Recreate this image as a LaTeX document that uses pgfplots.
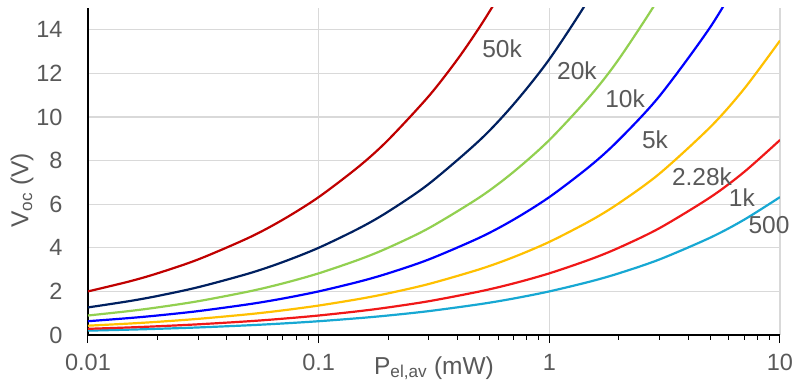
\documentclass[border=0pt]{standalone}
\usepackage{pgfplots}
\pgfplotsset{compat=1.18}
\usepackage{fontspec}
\setmainfont{Liberation Sans}
\definecolor{txt}{HTML}{595959}
\definecolor{gridc}{HTML}{D9D9D9}
\definecolor{c50k}{HTML}{C00000}
\definecolor{c20k}{HTML}{002060}
\definecolor{c10k}{HTML}{92D050}
\definecolor{c5k}{HTML}{0000FF}
\definecolor{c228k}{HTML}{FFC000}
\definecolor{c1k}{HTML}{F01818}
\definecolor{c500}{HTML}{17A8D3}
\begin{document}
\begin{tikzpicture}
\begin{axis}[
  at={(88pt,48pt)}, anchor=south west,
  scale only axis, width=692pt, height=327pt,
  xmode=log, xmin=0.01, xmax=10, ymin=0, ymax=15,
  axis x line*=bottom, axis y line*=left,
  axis line style={black, line width=1.2pt},
  xtick={0.01,0.1,1,10}, xticklabels={0.01,0.1,1,10},
  ytick={0,2,4,6,8,10,12,14},
  xmajorgrids, ymajorgrids, xminorgrids=false,
  grid style={gridc, line width=1.2pt},
  tick align=outside,
  major tick length=8pt, minor tick length=5pt,
  every tick/.style={black, line width=1pt},
  ytick style={draw=none},
  clip mode=individual,
  /pgf/number format/assume math mode=true,
  tick label style={font=\fontsize{23.5}{27}\selectfont, text=txt},
  xticklabel style={anchor=base, yshift=-27pt},
  yticklabel style={anchor=east, xshift=-14pt},
  xlabel={P\textsubscript{el,av} (mW)},
  ylabel={V\textsubscript{oc} (V)},
  every axis x label/.style={at={(axis description cs:0.5,-0.1193)}, anchor=base, font=\fontsize{24.5}{28}\selectfont, text=txt},
  every axis y label/.style={at={(axis description cs:-0.0954,0.443)}, rotate=90, anchor=center, font=\fontsize{24.5}{28}\selectfont, text=txt},
  every axis plot/.append style={line width=2.2pt, smooth, mark=none},
]
\addplot[c500] coordinates {(0.01,0.2)(0.015,0.245)(0.02,0.283)(0.03,0.346)(0.05,0.447)(0.07,0.529)(0.1,0.632)(0.15,0.775)(0.2,0.894)(0.3,1.095)(0.5,1.414)(0.7,1.673)(1,2)(1.5,2.449)(2,2.828)(3,3.464)(5,4.472)(7,5.292)(10,6.325)};
\addplot[c1k] coordinates {(0.01,0.283)(0.015,0.346)(0.02,0.4)(0.03,0.49)(0.05,0.632)(0.07,0.748)(0.1,0.894)(0.15,1.095)(0.2,1.265)(0.3,1.549)(0.5,2)(0.7,2.366)(1,2.828)(1.5,3.464)(2,4)(3,4.899)(5,6.325)(7,7.483)(10,8.944)};
\addplot[c228k] coordinates {(0.01,0.427)(0.015,0.523)(0.02,0.604)(0.03,0.740)(0.05,0.955)(0.07,1.130)(0.1,1.351)(0.15,1.654)(0.2,1.910)(0.3,2.339)(0.5,3.020)(0.7,3.573)(1,4.271)(1.5,5.231)(2,6.040)(3,7.397)(5,9.550)(7,11.299)(10,13.505)};
\addplot[c5k] coordinates {(0.01,0.632)(0.015,0.775)(0.02,0.894)(0.03,1.095)(0.05,1.414)(0.07,1.673)(0.1,2)(0.15,2.449)(0.2,2.828)(0.3,3.464)(0.5,4.472)(0.7,5.292)(1,6.325)(1.5,7.746)(2,8.944)(3,10.954)(5,14.142)(7,16.733)};
\addplot[c10k] coordinates {(0.01,0.894)(0.015,1.095)(0.02,1.265)(0.03,1.549)(0.05,2)(0.07,2.366)(0.1,2.828)(0.15,3.464)(0.2,4)(0.3,4.899)(0.5,6.325)(0.7,7.483)(1,8.944)(1.5,10.954)(2,12.649)(3,15.492)(4,17.889)};
\addplot[c20k] coordinates {(0.01,1.265)(0.015,1.549)(0.02,1.789)(0.03,2.191)(0.05,2.828)(0.07,3.347)(0.1,4)(0.15,4.899)(0.2,5.657)(0.3,6.928)(0.5,8.944)(0.7,10.583)(1,12.649)(1.5,15.492)(2,17.889)};
\addplot[c50k] coordinates {(0.01,2)(0.015,2.449)(0.02,2.828)(0.03,3.464)(0.05,4.472)(0.07,5.292)(0.1,6.325)(0.15,7.746)(0.2,8.944)(0.3,10.954)(0.4,12.649)(0.5,14.142)(0.6,15.492)(0.7,16.733)};
\begin{scope}[every node/.style={font=\fontsize{24.5}{28}\selectfont, text=txt, inner sep=0pt}]
\node at (axis cs:0.624,13.12) {50k};
\node at (axis cs:1.318,12.11) {20k};
\node at (axis cs:2.13,10.83) {10k};
\node at (axis cs:2.87,8.94) {5k};
\node at (axis cs:4.59,7.25) {2.28k};
\node at (axis cs:6.84,6.28) {1k};
\node at (axis cs:8.96,5.05) {500};
\end{scope}
\end{axis}
\pgfresetboundingbox
\useasboundingbox (0,0) rectangle (796pt,383pt);
\end{tikzpicture}
\end{document}
